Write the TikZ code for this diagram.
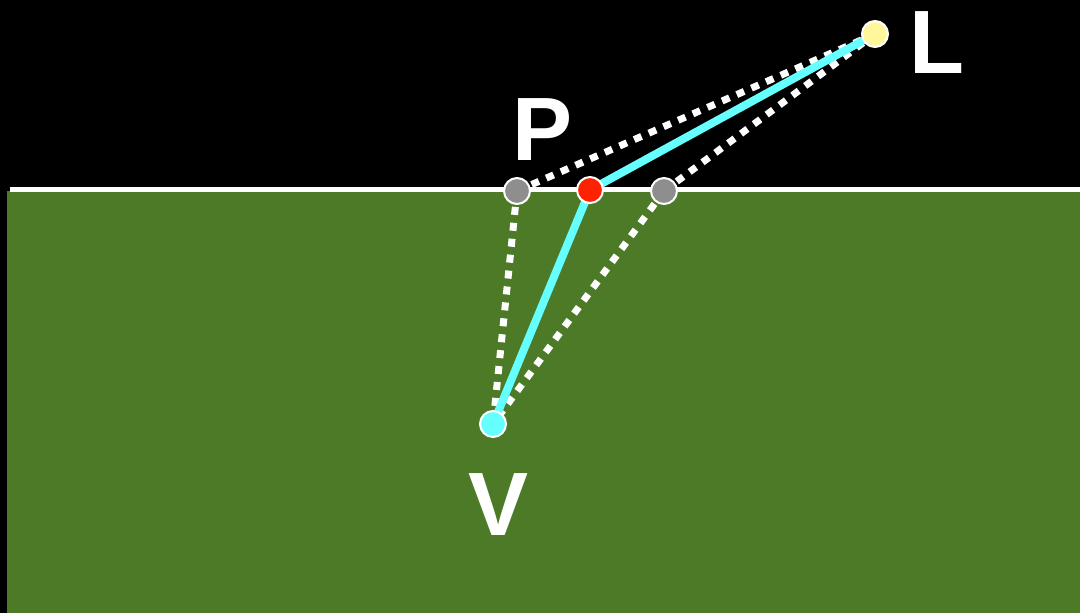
\documentclass[tikz,border=0pt]{standalone}
\usepackage{fontspec}
\setmainfont{Liberation Sans}
\definecolor{bggreen}{HTML}{4C7A27}
\definecolor{ptgray}{HTML}{8E8E8E}
\definecolor{ptred}{HTML}{FF2200}
\definecolor{ptyellow}{HTML}{FFF799}
\definecolor{raycyan}{HTML}{66FFFF}
\begin{document}
\begin{tikzpicture}[x=1pt,y=-1pt,
  pt/.style={circle,draw=white,line width=2pt,minimum size=26pt,inner sep=0pt},
  dotray/.style={white,line width=7pt,dash pattern=on 8pt off 8pt},
  ray/.style={raycyan,line width=8pt},
  lbl/.style={white,font=\fontsize{90}{90}\selectfont\bfseries,inner sep=0pt}]
\useasboundingbox (0,0) rectangle (1080,613);
\fill[black] (0,0) rectangle (1080,613);
\fill[bggreen] (7,191) rectangle (1080,613);
\draw[white,line width=5pt] (10,189.5) -- (1080,189.5);
\coordinate (Lc) at (875,34);
\coordinate (Pg) at (517,191);
\coordinate (Rc) at (590,190);
\coordinate (Gg) at (664,191);
\coordinate (Vc) at (493,424);
\draw[dotray] (Pg) -- (Lc);
\draw[dotray] (Pg) -- (Vc);
\draw[dotray] (Gg) -- (Lc);
\draw[dotray] (Gg) -- (Vc);
\draw[ray,line join=round] (Lc) -- (Rc) -- (Vc);
\node[pt,fill=ptgray] (gp) at (Pg) {};
\node[pt,fill=ptgray] (gg) at (Gg) {};
\node[pt,fill=ptred] (rp) at (Rc) {};
\node[pt,fill=ptyellow] (lp) at (Lc) {};
\node[pt,fill=raycyan] (vp) at (Vc) {};
\node[lbl] (tP) at (543,130) {P};
\node[lbl] (tL) at (937,43) {L};
\node[lbl] (tV) at (499,505) {V};
\end{tikzpicture}
\end{document}
